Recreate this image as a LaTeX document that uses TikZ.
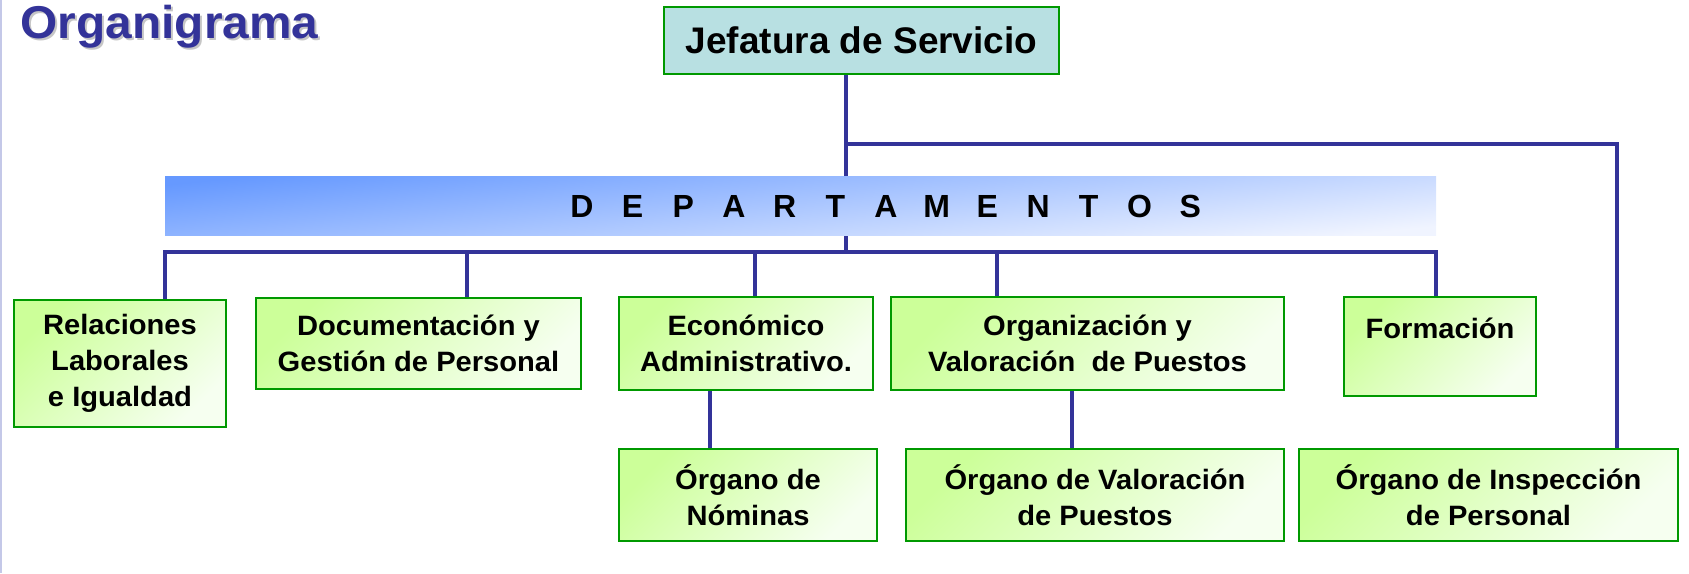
\documentclass[tikz,border=0pt]{standalone}
\usepackage{fontspec}
\setmainfont{Liberation Sans}
\newfontfamily\anchafont{Liberation Sans}[FakeStretch=1.04]

\definecolor{verdeborde}{HTML}{009900}
\definecolor{verdeclaro}{HTML}{CCFF99}
\definecolor{verdeblanco}{HTML}{F6FFF0}
\definecolor{azullinea}{HTML}{333399}
\definecolor{azulbarra}{HTML}{6699FF}
\definecolor{azulpalido}{HTML}{F0F4FF}
\definecolor{tealjefe}{HTML}{B8E0E2}
\definecolor{lilaborde}{HTML}{C4C8E8}

\tikzset{every picture/.style={line width=0.75pt}}
\tikzset{
  depto/.style={draw=verdeborde, line width=1.1pt, top color=verdeclaro, bottom color=verdeblanco, shading angle=45,
    inner sep=0pt, align=center, font=\anchafont\bfseries\fontsize{14}{18}\selectfont},
  enlace/.style={draw=azullinea, line width=1.7pt},
}

\begin{document}
\begin{tikzpicture}[x=0.5pt,y=0.5pt,yscale=-1,xscale=1]
\useasboundingbox (0,0) rectangle (1689,573);

%Shape: Line [left margin]
\draw [lilaborde, line width=1pt] (1,0) -- (1,573);

% Text Node
\node [anchor=base west, inner sep=0pt, text=gray!45, font=\anchafont\bfseries\fontsize{23}{27}\selectfont] (sombra) at (22,40) {Organigrama};
% Text Node
\node [anchor=base west, inner sep=0pt, text=azullinea, font=\anchafont\bfseries\fontsize{23}{27}\selectfont] (titulo) at (20,38) {Organigrama};

%Shape: Rectangle [Jefatura]
\node [draw=verdeborde, line width=1.1pt, fill=tealjefe, minimum width=197.5pt, minimum height=33.5pt, inner sep=0pt, font=\bfseries\fontsize{18.5}{22}\selectfont] (jefe) at (861.5,40.5) {Jefatura de Servicio};

%Shape: Rectangle [departamentos]
\node [depto, minimum width=106pt, minimum height=63.5pt] (rel) at (120,363.5) {Relaciones\\Laborales\\e Igualdad};
\node [depto, minimum width=162.5pt, minimum height=45.5pt] (doc) at (418.5,343.5) {Documentación y\\Gestión de Personal};
\node [depto, minimum width=127pt, minimum height=46.5pt] (eco) at (746,343.5) {Económico\\Administrativo.};
\node [depto, minimum width=196.5pt, minimum height=46.5pt] (org) at (1087.5,343.5) {Organización y\\Valoración~ de Puestos};
\node [depto, minimum width=96pt, minimum height=49.5pt] (form) at (1440,346.5) {Formación\\\phantom{X}};
%Shape: Rectangle [organos]
\node [depto, minimum width=129pt, minimum height=46pt] (nom) at (748,495) {Órgano de\\Nóminas};
\node [depto, minimum width=189pt, minimum height=46pt] (val) at (1095,495) {Órgano de Valoración\\de Puestos};
\node [depto, minimum width=189.5pt, minimum height=46pt] (insp) at (1488.5,495) {Órgano de Inspección\\de Personal};

% Connectors
\coordinate (kjefe) at (846,252);
\coordinate (kinsp) at (1617,144);
\coordinate (busL) at (165,252);
\coordinate (busR) at (1436,252);
\coordinate (tdoc) at (467,252);
\coordinate (teco) at (755,252);
\coordinate (torg) at (997,252);
\coordinate (knom) at (710,0);
\coordinate (kval) at (1072,0);

\draw [enlace] (jefe.south -| kjefe) -- (kjefe);
\draw [enlace] (kjefe |- kinsp) -- (kinsp) -- (insp.north -| kinsp);
\draw [enlace] (rel.north -| busL) -- (busL) -- (busR) -- (form.north -| busR);
\draw [enlace] (tdoc) -- (doc.north -| tdoc);
\draw [enlace] (teco) -- (eco.north -| teco);
\draw [enlace] (torg) -- (org.north -| torg);
\draw [enlace] (eco.south -| knom) -- (nom.north -| knom);
\draw [enlace] (org.south -| kval) -- (val.north -| kval);

%Shape: Rectangle [barra]
\node [top color=azulbarra, bottom color=azulpalido, shading angle=6, minimum width=635.5pt, minimum height=29.5pt, inner sep=0pt] (barra) at (800.5,205.5) {};
% Text Node
\node [inner sep=0pt, font=\bfseries\fontsize{16}{19}\selectfont] (barratxt) at (886,206.5) {\foreach \l in {D,E,P,A,R,T,A,M,E,N,T,O,S}{\makebox[25.35pt]{\l}}};

\end{tikzpicture}
\end{document}
